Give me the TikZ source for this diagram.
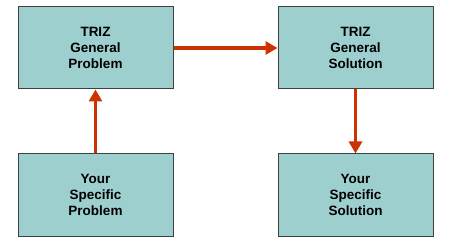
\documentclass[tikz,border=0pt]{standalone}
\usepackage{fontspec}
\setmainfont{Liberation Sans}
\usepackage{tikz}
\usetikzlibrary{arrows.meta, positioning}
\definecolor{boxfill}{HTML}{9ECFCF}
\definecolor{arrowred}{HTML}{CC3300}
\tikzstyle{stage} = [rectangle, minimum width=155pt, minimum height=82pt, text centered, draw=black!75, line width=1pt, fill=boxfill, text width=8em, font=\fontsize{13.5}{16}\selectfont\bfseries]
\tikzstyle{line} = [draw=arrowred, line width=3.5pt, -{Triangle[length=12pt,width=13pt]}]

\begin{document}
\begin{tikzpicture}[node distance = 64pt, auto]
    \useasboundingbox (0,0) rectangle (450pt,-243pt);
    % Nodes
    \node [stage] (genprob) at (95.5pt,-48pt) {TRIZ \\ General \\ Problem};
    \node [stage, right=104pt of genprob] (gensol) {TRIZ \\ General \\ Solution};
    \node [stage, below=64pt of genprob] (specprob) {Your \\ Specific \\ Problem};
    \node [stage, below=64pt of gensol] (specsol) {Your \\ Specific \\ Solution};

    % Edges
    \path [line] (specprob) -- (genprob);
    \path [line] (genprob) -- (gensol);
    \path [line] (gensol) -- (specsol);
\end{tikzpicture}
\end{document}
